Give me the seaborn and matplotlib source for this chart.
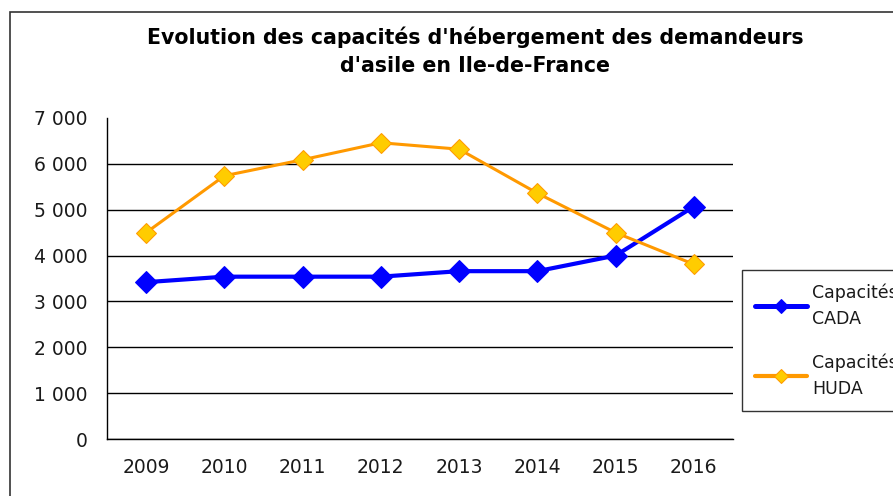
import matplotlib
matplotlib.use("Agg")
import matplotlib.pyplot as plt
from matplotlib.patches import Rectangle
import pandas as pd
import seaborn as sns

# Data
years = ["2009", "2010", "2011", "2012", "2013", "2014", "2015", "2016"]
cada = [3420, 3540, 3540, 3540, 3660, 3660, 4000, 5070]
huda = [4500, 5740, 6090, 6460, 6320, 5360, 4500, 3810]
series_names = ["Capacités\nCADA", "Capacités\nHUDA"]
y_ticks = [0, 1000, 2000, 3000, 4000, 5000, 6000, 7000]

sns.set_style("white")
plt.rcParams['font.family'] = ['DejaVu Sans']

df = pd.DataFrame({
    "pos": list(range(len(years))) * 2,
    "value": cada + huda,
    "serie": [series_names[0]] * len(years) + [series_names[1]] * len(years),
})

fig = plt.figure(figsize=(8.93, 4.96), dpi=100)
ax = fig.add_axes([0.1198, 0.1149, 0.7010, 0.6472])

# outer chart frame (cropped on the right and bottom in the original)
fig.patches.append(Rectangle((10 / 893, -0.1), 1.2, 0.1 + (496 - 12) / 496,
                             transform=fig.transFigure, fill=False,
                             edgecolor="#333333", linewidth=1.2))

sns.lineplot(data=df[df.serie == series_names[0]], x="pos", y="value", ax=ax,
             color="#0000FF", linewidth=3.0, marker="D", markersize=11.5,
             markerfacecolor="#0000FF", markeredgecolor="#0000FF",
             label=series_names[0])
sns.lineplot(data=df[df.serie == series_names[1]], x="pos", y="value", ax=ax,
             color="#FF9900", linewidth=2.2, marker="D", markersize=10,
             markerfacecolor="#FFCC00", markeredgecolor="#FF9900",
             label=series_names[1])

ax.set_xlim(-0.5, len(years) - 0.5)
ax.set_ylim(0, 7000)
ax.set_yticks(y_ticks)
ax.set_yticklabels([f"{v:,}".replace(",", " ") for v in y_ticks])
ax.yaxis.grid(True, color="black", linewidth=1.0)
ax.yaxis.get_gridlines()[-1].set_visible(False)
ax.set_axisbelow(True)

# ticks between categories, labels at the centres
ax.set_xticks([i - 0.5 for i in range(len(years) + 1)])
ax.set_xticklabels([])
ax.set_xticks(range(len(years)), minor=True)
ax.set_xticklabels(years, minor=True)
ax.tick_params(axis="x", which="major", direction="out", length=5, width=1, color="black")
ax.tick_params(axis="x", which="minor", length=0, pad=14, labelsize=13.5, labelcolor="#1a1a1a")
ax.tick_params(axis="y", direction="out", length=5, width=1, color="black",
               labelsize=13.5, labelcolor="#1a1a1a", pad=9)

ax.set_xlabel("")
ax.set_ylabel("")
for side in ["top", "right"]:
    ax.spines[side].set_visible(False)
for side in ["left", "bottom"]:
    ax.spines[side].set_color("black")
    ax.spines[side].set_linewidth(1.0)

fig.text(0.532, 0.896, "Evolution des capacités d'hébergement des demandeurs\nd'asile en Ile-de-France",
         ha="center", va="center", fontsize=14.8, fontweight="bold", linespacing=1.5,
         color="black")

# legend box runs past the right edge, as in the original screenshot
leg = ax.legend(loc="upper left", bbox_to_anchor=(742 / 893, 1 - 413 / 496, 0.2, 143 / 496),
                bbox_transform=fig.transFigure, mode="expand", frameon=True, fancybox=False,
                edgecolor="black", fontsize=12.5, handlelength=3.0, labelspacing=1.45,
                borderaxespad=0, handletextpad=0.3, borderpad=0.75)
leg.get_frame().set_linewidth(1.0)
for h, lw in zip(leg.legend_handles, [3.6, 3.0]):
    h.set_markersize(7)
    h.set_linewidth(lw)
for t in leg.get_texts():
    t.set_color("#1a1a1a")
    t.set_linespacing(1.6)

fig.savefig("out.png", dpi=100)
